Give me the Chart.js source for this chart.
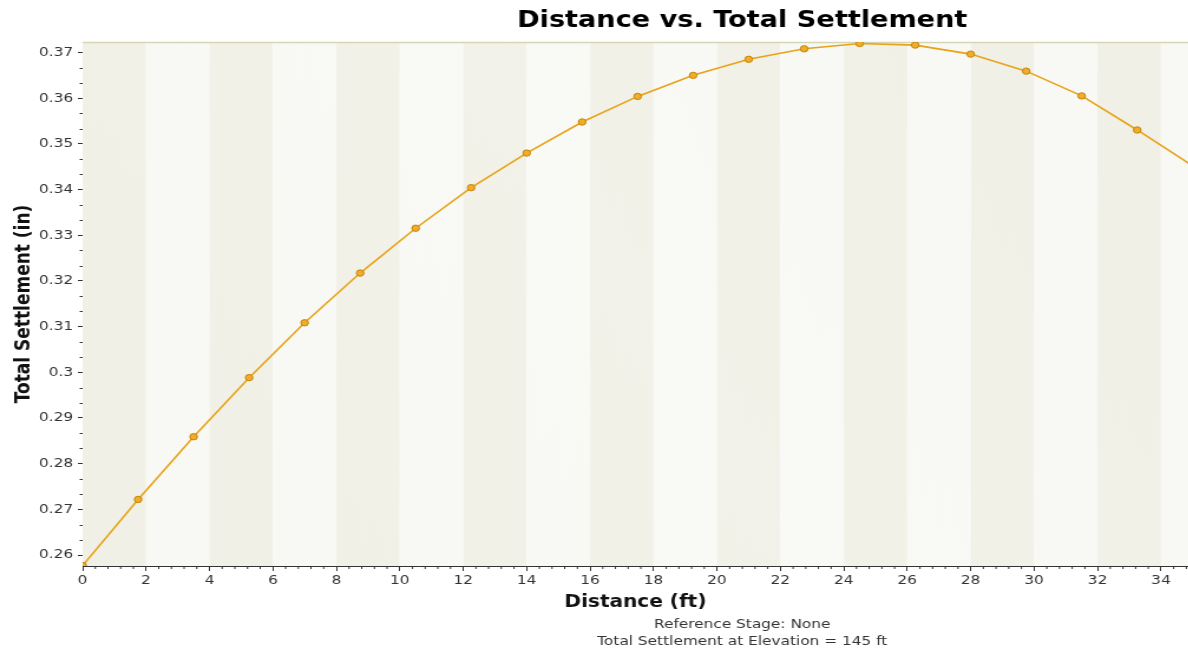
<!DOCTYPE html>
<html>
<head>
<meta charset="utf-8">
<script src="https://cdn.jsdelivr.net/npm/chart.js@4/dist/chart.umd.min.js"></script>
<style>
  html, body { margin: 0; padding: 0; background: #ffffff; overflow: hidden; }
  #wrap { position: relative; width: 1188px; height: 656px; overflow: hidden; }
  #c { position: absolute; left: 0; top: 0; transform: scaleX(1.18); transform-origin: 0 0; }
</style>
</head>
<body>
<div id="wrap"><canvas id="c" width="1007" height="656"></canvas></div>
<script>
// ---- Data ----
const distances = [0, 1.75, 3.5, 5.25, 7, 8.75, 10.5, 12.25, 14, 15.75, 17.5, 19.25, 21, 22.75, 24.5, 26.25, 28, 29.75, 31.5, 33.25, 35];
const settlement = [0.2577, 0.27217, 0.28589, 0.29883, 0.31084, 0.32172, 0.33153, 0.34042, 0.34799, 0.35479, 0.36039, 0.365, 0.36851, 0.37081, 0.37198, 0.37162, 0.36965, 0.36592, 0.3605, 0.35304, 0.3452];
const xTickValues = [0, 2, 4, 6, 8, 10, 12, 14, 16, 18, 20, 22, 24, 26, 28, 30, 32, 34];
const yTickValues = [0.26, 0.27, 0.28, 0.29, 0.3, 0.31, 0.32, 0.33, 0.34, 0.35, 0.36, 0.37];
const chartTitle = 'Distance vs. Total Settlement';
const xTitle = 'Distance (ft)';
const yTitle = 'Total Settlement (in)';
const footerLines = ['Reference Stage: None', 'Total Settlement at Elevation = 145 ft'];

const FONT = "'DejaVu Sans', Verdana, sans-serif";

const points = distances.map((d, i) => ({ x: d, y: settlement[i] }));

const decorPlugin = {
  id: 'decor',
  beforeDatasetsDraw(chart) {
    const { ctx, chartArea: a, scales: { x } } = chart;
    ctx.save();
    for (let v = 0; v < x.max; v += 2) {
      const l = Math.max(a.left, x.getPixelForValue(v));
      const r = Math.min(a.right, x.getPixelForValue(v + 2));
      ctx.fillStyle = (Math.round(v / 2) % 2 === 0) ? '#f1f0e6' : '#f8f8f4';
      ctx.fillRect(l, a.top, r - l, a.bottom - a.top);
    }
    const g = ctx.createLinearGradient(a.left, a.bottom, a.right, a.top);
    g.addColorStop(0, 'rgba(255,255,255,0)');
    g.addColorStop(0.5, 'rgba(255,255,255,0.12)');
    g.addColorStop(1, 'rgba(255,255,255,0)');
    ctx.fillStyle = g;
    ctx.fillRect(a.left, a.top, a.right - a.left, a.bottom - a.top);
    ctx.strokeStyle = '#d6d6b4';
    ctx.lineWidth = 1.5;
    ctx.beginPath();
    ctx.moveTo(a.left, a.top + 0.5);
    ctx.lineTo(a.right, a.top + 0.5);
    ctx.stroke();
    ctx.restore();
  },
  afterDraw(chart) {
    const { ctx, chartArea: a, scales: { x, y } } = chart;
    ctx.save();
    ctx.strokeStyle = '#333333';
    ctx.lineWidth = 1;
    ctx.beginPath();
    for (let i = 0; ; i++) {
      const v = i * 0.4;
      if (v > x.max) break;
      if (i % 5 === 0) continue;
      const px = x.getPixelForValue(v);
      ctx.moveTo(px, a.bottom);
      ctx.lineTo(px, a.bottom + 3);
    }
    for (let i = -3; ; i++) {
      const v = 0.26 + i * 0.01 / 3;
      if (v > y.max) break;
      if (v < y.min || ((i % 3) + 3) % 3 === 0) continue;
      const py = Math.round(y.getPixelForValue(v)) + 0.5;
      ctx.moveTo(a.left, py);
      ctx.lineTo(a.left - 2.5, py);
    }
    ctx.stroke();
    const cx = 629;
    ctx.fillStyle = '#000000';
    ctx.textAlign = 'center';
    ctx.textBaseline = 'middle';
    ctx.font = 'bold 23px ' + FONT;
    ctx.fillText(chartTitle, cx, 21);
    ctx.fillStyle = '#333333';
    ctx.font = '13px ' + FONT;
    ctx.fillText(footerLines[0], cx, 625);
    ctx.fillText(footerLines[1], cx, 642);
    ctx.restore();
  }
};

new Chart(document.getElementById('c'), {
  type: 'line',
  data: {
    datasets: [{
      data: points,
      borderColor: '#e8a317',
      borderWidth: 1.6,
      pointRadius: 3.2,
      pointBackgroundColor: '#f0ac2a',
      pointBorderColor: '#c4870c',
      pointBorderWidth: 1,
      tension: 0,
      fill: false
    }]
  },
  options: {
    responsive: false,
    animation: false,
    events: [],
    layout: { autoPadding: false, padding: { top: 42, bottom: 43, left: 0, right: 0 } },
    plugins: { legend: { display: false }, tooltip: { enabled: false }, title: { display: false } },
    scales: {
      x: {
        type: 'linear',
        min: 0,
        max: 34.86,
        afterFit(s) { s.height = 47; s.paddingLeft = 0; s.paddingRight = 0; },
        afterBuildTicks(s) { s.ticks = xTickValues.map(v => ({ value: v })); },
        border: { display: true, color: '#333333', width: 1 },
        grid: { display: true, drawOnChartArea: false, drawTicks: true, tickLength: 5, tickColor: '#333333' },
        ticks: {
          color: '#333333',
          font: { family: FONT, size: 13 },
          padding: 2,
          maxRotation: 0,
          autoSkip: false,
          callback: v => String(v)
        },
        title: {
          display: true,
          text: xTitle,
          color: '#111111',
          font: { family: FONT, size: 17, weight: 'bold' },
          padding: { top: 0, bottom: 0 }
        }
      },
      y: {
        type: 'linear',
        min: 0.2576,
        max: 0.3723,
        afterFit(s) { s.width = 70; s.paddingTop = 0; s.paddingBottom = 0; },
        afterBuildTicks(s) { s.ticks = yTickValues.map(v => ({ value: v })); },
        border: { display: true, color: '#333333', width: 1 },
        grid: { display: true, drawOnChartArea: false, drawTicks: true, tickLength: 4, tickColor: '#333333' },
        ticks: {
          color: '#333333',
          font: { family: FONT, size: 13 },
          padding: 4,
          autoSkip: false,
          callback: v => String(Number(Number(v).toFixed(2)))
        },
        title: {
          display: true,
          text: yTitle,
          color: '#111111',
          font: { family: FONT, size: 17, weight: 'bold' },
          padding: { top: 10, bottom: 0 }
        }
      }
    }
  },
  plugins: [decorPlugin]
});
</script>
</body>
</html>
